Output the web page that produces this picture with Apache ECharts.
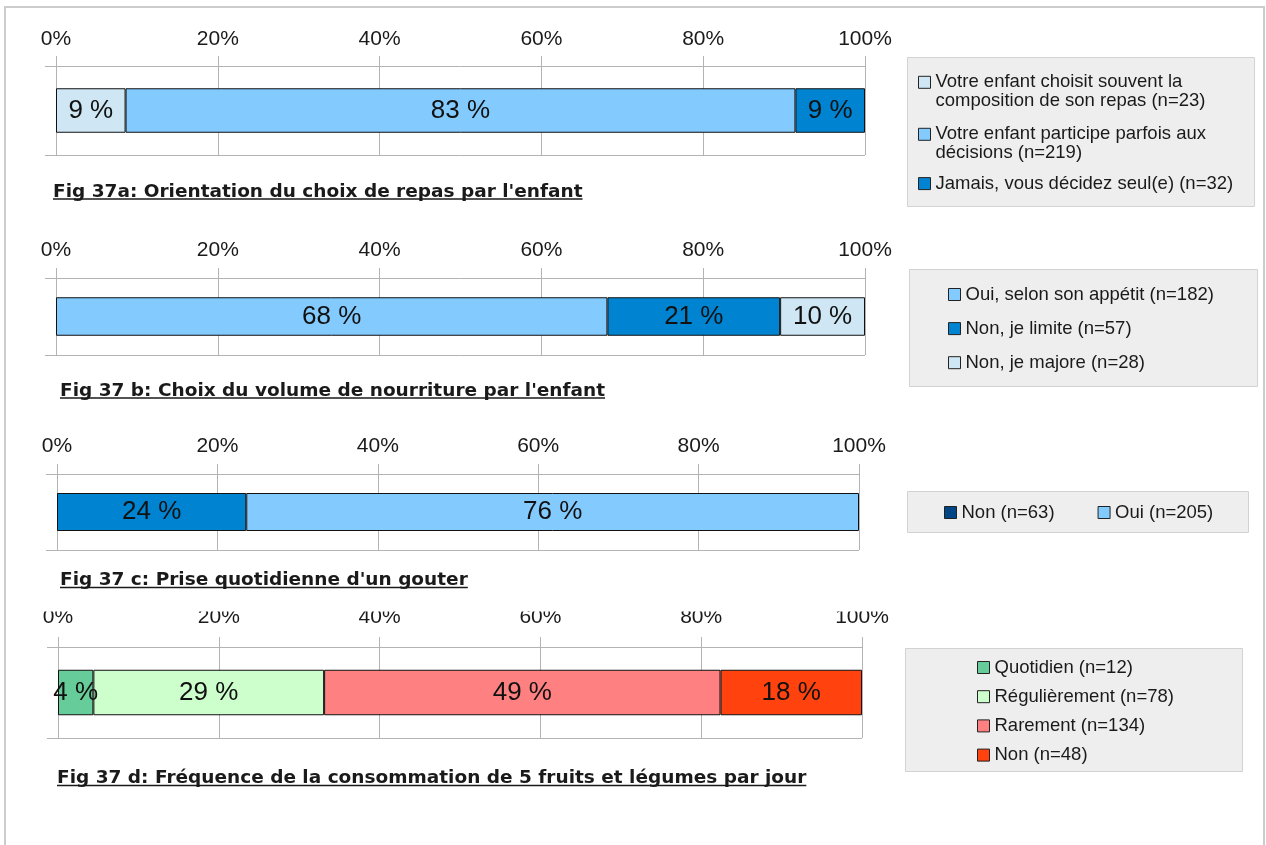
<!DOCTYPE html>
<html>
<head>
<meta charset="utf-8">
<script src="https://cdn.jsdelivr.net/npm/echarts@6/dist/echarts.min.js"></script>
<style>
  html, body { margin: 0; padding: 0; background: #ffffff; }
  #chart { width: 1266px; height: 845px; }
</style>
</head>
<body>
<div id="chart"></div>
<script>
// ---- Fig 37a: meal choice orientation ----
const titleA = "Fig 37a: Orientation du choix de repas par l'enfant";
const namesA = [
  'Votre enfant choisit souvent la\ncomposition de son repas (n=23)',
  'Votre enfant participe parfois aux\ndécisions (n=219)',
  'Jamais, vous décidez seul(e) (n=32)'
];
const valuesA = [8.6, 82.8, 8.6];

// ---- Fig 37b: food volume ----
const titleB = "Fig 37 b: Choix du volume de nourriture par l'enfant";
const namesB = ['Oui, selon son appétit (n=182)', 'Non, je limite (n=57)', 'Non, je majore (n=28)'];
const valuesB = [68.16, 21.35, 10.49];

// ---- Fig 37c: daily snack ----
const titleC = "Fig 37 c: Prise quotidienne d'un gouter";
const namesC = ['Non (n=63)', 'Oui (n=205)'];
const valuesC = [23.6, 76.4];

// ---- Fig 37d: 5 fruits & vegetables a day ----
const titleD = 'Fig 37 d: Fréquence de la consommation de 5 fruits et légumes par jour';
const namesD = ['Quotidien (n=12)', 'Régulièrement (n=78)', 'Rarement (n=134)', 'Non (n=48)'];
const valuesD = [4.4, 28.7, 49.3, 17.6];

// Palette (bar fill / legend swatch)
const barColorsA = ['#cfe7f5', '#83caff', '#0084d1'];
const barColorsB = ['#83caff', '#0084d1', '#cfe7f5'];
const barColorsC = ['#0084d1', '#83caff'];
const keyColorsC = ['#004586', '#83caff'];
const barColorsD = ['#66cc99', '#ccffcc', '#ff8080', '#ff420e'];

const GRID_COLOR = '#b3b3b3';
const TEXT_COLOR = '#1a1a1a';
const LEGEND_FONT = 18.5;
const LINE = 19;
const TITLE_FONT = 18.5;

const panels = [
  {
    title: titleA, names: namesA, values: valuesA, bar: barColorsA, key: barColorsA,
    grid: { left: 56, top: 66, width: 809, height: 89 }, labelMargin: 16,
    titlePos: { left: 53, top: 182.5, underline: 199 },
    box: { x: 907, y: 57, w: 347, h: 149 },
    // wrapped entries keep their swatch beside the first line
    legend: { left: 918, top: 53.8, orient: 'vertical', itemGap: -5, wrapped: true,
      lineHeights: [LINE, LINE, 16.3] }
  },
  {
    title: titleB, names: namesB, values: valuesB, bar: barColorsB, key: barColorsB,
    grid: { left: 56, top: 278, width: 809, height: 77 }, labelMargin: 17.5,
    titlePos: { left: 60, top: 381.5, underline: 398 },
    box: { x: 909, y: 269, w: 348, h: 117 },
    legend: { left: 948, top: 285, orient: 'vertical', itemGap: 15.1 }
  },
  {
    title: titleC, names: namesC, values: valuesC, bar: barColorsC, key: keyColorsC,
    grid: { left: 57, top: 474, width: 802, height: 76 }, labelMargin: 17.5,
    titlePos: { left: 60, top: 570.5, underline: 587.5 },
    box: { x: 907, y: 491, w: 341, h: 41 },
    legend: { left: 944, top: 503, orient: 'horizontal', itemGap: 43 }
  },
  {
    title: titleD, names: namesD, values: valuesD, bar: barColorsD, key: barColorsD,
    grid: { left: 58, top: 647, width: 804, height: 91 }, labelMargin: 19,
    titlePos: { left: 57, top: 769, underline: 785.5 },
    box: { x: 905, y: 648, w: 337, h: 123 },
    legend: { left: 977, top: 658, orient: 'vertical', itemGap: 10.2 }
  }
];

const measureCtx = document.createElement('canvas').getContext('2d');
measureCtx.font = 'bold ' + TITLE_FONT + 'px "DejaVu Sans"';

const option = {
  animation: false,
  backgroundColor: '#ffffff',
  textStyle: { fontFamily: 'Liberation Sans' },
  grid: [], xAxis: [], yAxis: [], series: [], legend: [], title: [],
  graphic: [
    // outer frame
    { type: 'rect', z: 0, silent: true,
      shape: { x: 5, y: 7, width: 1259, height: 900 },
      style: { fill: 'none', stroke: '#cccccc', lineWidth: 2 } }
  ]
};

panels.forEach((p, i) => {
  option.grid.push(Object.assign({ containLabel: false }, p.grid));

  option.xAxis.push({
    gridIndex: i, type: 'value', position: 'top', min: 0, max: 100, interval: 20,
    axisLine: { show: false },
    axisTick: { show: true, length: 10, lineStyle: { color: GRID_COLOR } },
    splitLine: { show: true, lineStyle: { color: GRID_COLOR } },
    axisLabel: { formatter: '{value}%', fontSize: 21, color: TEXT_COLOR, margin: p.labelMargin }
  });

  option.yAxis.push({
    gridIndex: i, type: 'category', data: [''],
    axisLine: { show: false },
    axisTick: { show: true, length: 11, lineStyle: { color: GRID_COLOR } },
    axisLabel: { show: false },
    splitLine: { show: true, lineStyle: { color: GRID_COLOR } }
  });

  p.names.forEach((name, k) => {
    option.series.push({
      type: 'bar', name: name, xAxisIndex: i, yAxisIndex: i, stack: 'panel' + i,
      barWidth: '50%',
      itemStyle: { color: p.key[k], borderColor: '#111111', borderWidth: 1 },
      label: {
        show: true, position: 'inside', fontSize: 26, color: '#111111',
        formatter: d => Math.round(d.value) + ' %'
      },
      data: [{ value: p.values[k], itemStyle: { color: p.bar[k] } }]
    });
  });

  const lg = p.legend;
  option.legend.push({
    orient: lg.orient, left: lg.left, top: lg.top,
    padding: 0, itemGap: lg.itemGap, itemWidth: 12, itemHeight: 12,
    itemStyle: { borderColor: '#222222', borderWidth: 1 },
    icon: 'rect', selectedMode: false,
    textStyle: { fontSize: LEGEND_FONT, lineHeight: LINE, color: TEXT_COLOR },
    // an empty leading line keeps the swatch level with the first text line
    formatter: lg.wrapped ? (n => n.indexOf('\n') >= 0 ? '\n' + n : '\n' + n + '\n') : undefined,
    data: p.names.map((n, k) => lg.lineHeights
      ? { name: n, textStyle: { lineHeight: lg.lineHeights[k] } }
      : { name: n })
  });

  option.title.push({
    text: p.title, left: p.titlePos.left, top: p.titlePos.top, padding: 0,
    textStyle: { fontFamily: 'DejaVu Sans', fontWeight: 'bold', fontSize: TITLE_FONT, color: TEXT_COLOR }
  });

  const w = measureCtx.measureText(p.title).width;
  option.graphic.push({
    type: 'line', silent: true, z: 10,
    shape: { x1: p.titlePos.left, y1: p.titlePos.underline, x2: p.titlePos.left + w, y2: p.titlePos.underline },
    style: { stroke: TEXT_COLOR, lineWidth: 1.5 }
  });

  // legend panel background
  option.graphic.push({
    type: 'rect', silent: true, z: 0,
    shape: { x: p.box.x + 0.5, y: p.box.y + 0.5, width: p.box.w, height: p.box.h },
    style: { fill: '#eeeeee', stroke: '#d2d2d2', lineWidth: 1 }
  });
});

// the top of the last panel's scale is cut off by the sheet above it
option.graphic.push({
  type: 'rect', silent: true, z: 50,
  shape: { x: 20, y: 596, width: 880, height: 15.5 },
  style: { fill: '#ffffff' }
});

const chart = echarts.init(document.getElementById('chart'), null, { renderer: 'canvas' });
chart.setOption(option);
</script>
</body>
</html>
